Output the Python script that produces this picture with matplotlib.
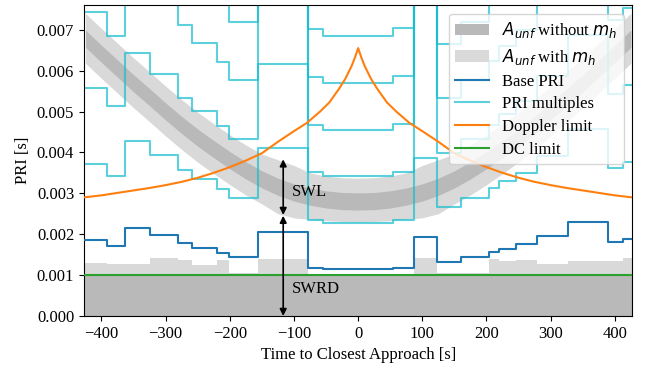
import matplotlib
matplotlib.use("Agg")
import matplotlib.pyplot as plt
import numpy as np
from matplotlib.ticker import FormatStrFormatter

plt.rcParams['font.family'] = ['Liberation Serif', 'DejaVu Serif']
plt.rcParams['font.size'] = 12

# segment edges of the PRI schedule [s]
seg_edges = [-427.5, -392, -363, -324.6, -280.5, -259, -220, -202, -155.8, -78.9,
             -55.5, 54.5, 86.3, 122.6, 161, 204, 219.7, 245.8, 279, 326.8, 390, 412, 427.5]
# base PRI per segment [ms]
base_pri_ms = [1.86, 1.71, 2.14, 1.97, 1.78, 1.67, 1.55, 1.44, 2.05, 1.17, 1.14,
               1.175, 1.93, 1.33, 1.44, 1.56, 1.65, 1.75, 1.96, 2.29, 1.81, 1.88]
# upper edge of the light grey zone above the DC limit [ms]
low_zone_ms = [1.30, 1.27, 1.28, 1.41, 1.36, 1.24, 1.36, 1.06, 1.40, 1.00, 1.00,
               1.00, 1.41, 1.05, 1.05, 1.40, 1.35, 1.36, 1.27, 1.35, 1.35, 1.42]
multiples = [2, 3, 4, 5, 6]
hidden_multiples = {12: [3, 4, 5, 6]}  # segment index -> multiples not shown

# ambiguity band, left half (mirrored to the right) [ms]
band_t = [-425, -400, -375, -350, -325, -300, -275, -250, -225, -200, -175, -150,
          -125, -100, -75, -50, -25, 0]
dark_top = [6.99, 6.62, 6.26, 5.90, 5.56, 5.21, 4.88, 4.57, 4.29, 4.02, 3.77, 3.55,
            3.37, 3.23, 3.13, 3.06, 3.02, 3.01]
dark_bot = [6.57, 6.20, 5.84, 5.48, 5.14, 4.79, 4.46, 4.15, 3.87, 3.60, 3.35, 3.13,
            2.95, 2.81, 2.71, 2.64, 2.60, 2.59]
light_top = [7.40, 7.03, 6.67, 6.31, 5.97, 5.62, 5.29, 4.98, 4.70, 4.43, 4.18, 3.96,
             3.82, 3.68, 3.50, 3.42, 3.38, 3.37]
light_bot = [6.18, 5.81, 5.45, 5.09, 4.75, 4.40, 4.07, 3.76, 3.48, 3.21, 2.96, 2.74,
             2.50, 2.40, 2.36, 2.33, 2.31, 2.30]

# Doppler limit, left half (mirrored) [ms]
dop_t = [-427.5, -400, -375, -350, -325, -300, -275, -250, -225, -200, -175, -150,
         -125, -100, -80, -60, -45, -30, -20, -10, -5, 0]
dop_ms = [2.90, 2.95, 3.01, 3.07, 3.13, 3.20, 3.28, 3.38, 3.50, 3.64, 3.80, 3.98,
          4.26, 4.52, 4.72, 4.99, 5.22, 5.55, 5.80, 6.12, 6.32, 6.55]

dc_limit = 0.001
swl_t, swl_lo, swl_hi = -116.8, 0.00247, 0.00383


def mirror(t, v):
    t = np.asarray(t, float)
    v = np.asarray(v, float)
    return np.concatenate([t, -t[-2::-1]]), np.concatenate([v, v[-2::-1]])


edges = np.array(seg_edges)
base = np.array(base_pri_ms) * 1e-3
low_zone = np.array(low_zone_ms) * 1e-3

fig, ax = plt.subplots(figsize=(6.5, 3.7), dpi=100)
fig.subplots_adjust(left=0.129, right=0.973, top=0.986, bottom=0.146)

dark_c = '#b9b9b9'
light_c = '#d9d9d9'

# bands
bt, lt = mirror(band_t, light_top)
_, lb = mirror(band_t, light_bot)
_, dt = mirror(band_t, dark_top)
_, db = mirror(band_t, dark_bot)
h_light = ax.fill_between(bt, lb * 1e-3, lt * 1e-3, color=light_c, lw=0, zorder=1)
h_dark = ax.fill_between(bt, db * 1e-3, dt * 1e-3, color=dark_c, lw=0, zorder=1.1)

# low zone (SWRD)
ax.fill_between(edges, 0, np.append(low_zone, low_zone[-1]), step='post',
                color=light_c, lw=0, zorder=1)
ax.fill_between(edges, 0, dc_limit, color=dark_c, lw=0, zorder=1.1)

# PRI multiples
for k in multiples:
    vals = base * k
    for i, ks in hidden_multiples.items():
        if k in ks:
            vals[i] = 1.0
    h_mult, = ax.step(edges, np.append(vals, vals[-1]), where='post',
                      color='tab:cyan', lw=1.5, alpha=0.7, zorder=2)

h_base, = ax.step(edges, np.append(base, base[-1]), where='post',
                  color='tab:blue', lw=1.5, zorder=3)

dtt, dv = mirror(dop_t, dop_ms)
h_dop, = ax.plot(dtt, dv * 1e-3, color='tab:orange', lw=1.5, zorder=3)
h_dc = ax.axhline(dc_limit, color='tab:green', lw=1.5, zorder=3)

# SWL / SWRD arrows
arr = dict(arrowstyle='<|-|>', color='k', lw=1.2, shrinkA=0, shrinkB=0,
           mutation_scale=10)
ax.annotate('', xy=(swl_t, swl_hi), xytext=(swl_t, swl_lo), arrowprops=arr, zorder=4)
ax.annotate('', xy=(swl_t, swl_lo - 0.00002), xytext=(swl_t, 0), arrowprops=arr, zorder=4)
ax.text(swl_t + 14, 0.00304, 'SWL', va='center', ha='left', fontsize=12, zorder=4)
ax.text(swl_t + 14, 0.00065, 'SWRD', va='center', ha='left', fontsize=12, zorder=4)

ax.set_xlim(-427.5, 427.5)
ax.set_ylim(0, 0.0076)
ax.set_xticks(np.arange(-400, 401, 100))
ax.yaxis.set_major_formatter(FormatStrFormatter('%.3f'))
ax.set_xlabel('Time to Closest Approach [s]')
ax.set_ylabel('PRI [s]')

ax.legend([h_dark, h_light, h_base, h_mult, h_dop, h_dc],
          [r'$A_{unf}$ without $m_h$', r'$A_{unf}$ with $m_h$', 'Base PRI',
           'PRI multiples', 'Doppler limit', 'DC limit'],
          loc='upper right', fontsize=12, labelspacing=0.4)

fig.savefig('out.png', dpi=100)
